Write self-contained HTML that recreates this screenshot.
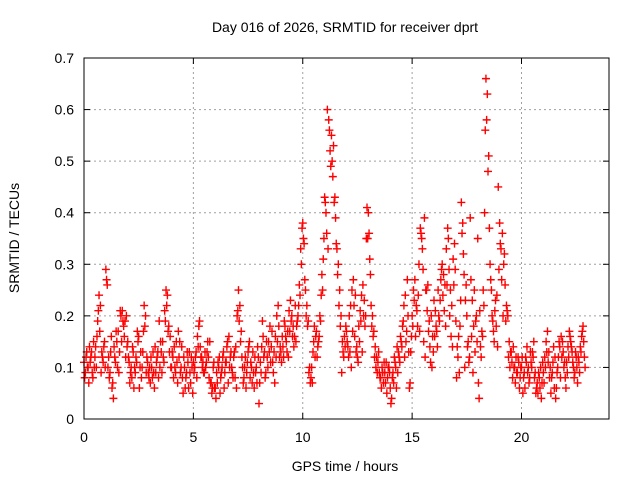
<!DOCTYPE html>
<html><head><meta charset="utf-8"><style>
body{margin:0;background:#fff;}
svg{display:block;font-family:"Liberation Sans",sans-serif;}
</style></head><body>
<svg id="chart" width="640" height="480">
<text x="345" y="32" text-anchor="middle" font-size="14">Day 016 of 2026, SRMTID for receiver dprt</text>
<text x="345" y="471" text-anchor="middle" font-size="14">GPS time / hours</text>
<text transform="translate(19,238) rotate(-90)" text-anchor="middle" font-size="14">SRMTID / TECUs</text>
<g id="grid"></g><g id="ticks"></g><g id="marks"></g>
<rect x="84" y="58" width="525" height="361" fill="none" stroke="#000" stroke-width="1"/>
</svg>
<script>
const xTicks=[0,5,10,15,20];
const yTicks=[0,0.1,0.2,0.3,0.4,0.5,0.6,0.7];
const yTickLabels=["0","0.1","0.2","0.3","0.4","0.5","0.6","0.7"];
const hourStep=0.0625;
const seriesA=[
.11,.09,.13,.10,.14,.12,.09,.15,.12,.10,.19,.24,.22,.13,.11,.15,
.29,.26,.12,.09,.16,.07,.14,.11,.15,.17,.13,.20,.21,.18,.19,.20,
.15,.11,.09,.08,.13,.10,.12,.17,.16,.10,.08,.13,.22,.20,.12,.09,
.10,.12,.08,.09,.14,.11,.13,.19,.15,.09,.12,.21,.25,.24,.18,.16,
.10,.12,.14,.09,.11,.17,.15,.10,.08,.12,.06,.09,.11,.13,.07,.10,
.11,.10,.13,.16,.18,.14,.12,.11,.09,.10,.13,.12,.15,.07,.06,.11,
.06,.09,.11,.12,.08,.10,.13,.09,.11,.15,.16,.12,.10,.08,.13,.14,
.20,.25,.22,.17,.10,.08,.12,.09,.13,.15,.11,.07,.09,.12,.10,.14,
.03,.11,.14,.16,.13,.09,.12,.15,.18,.14,.11,.13,.16,.20,.22,.12,
.13,.16,.12,.18,.15,.17,.21,.23,.20,.18,.16,.15,.19,.22,.24,.30,
.38,.34,.25,.22,.19,.10,.08,.07,.15,.12,.17,.14,.16,.19,.28,.31,
.43,.40,.60,.58,.52,.55,.47,.42,.39,.33,.30,.25,.20,.15,.12,.14,
.17,.14,.20,.22,.25,.27,.16,.13,.12,.18,.21,.24,.26,.23,.20,.41,
.40,.31,.22,.20,.17,.14,.12,.11,.09,.08,.10,.07,.09,.11,.08,.10,
.06,.04,.09,.12,.10,.14,.13,.11,.15,.18,.22,.24,.17,.20,.06,.13,
.20,.25,.27,.22,.18,.30,.37,.35,.29,.39,.25,.21,.17,.14,.20,.16,
.23,.21,.17,.25,.19,.27,.30,.28,.26,.33,.37,.29,.25,.22,.31,.34,
.19,.14,.16,.18,.42,.38,.28,.23,.20,.15,.12,.27,.23,.18,.13,.20,
.35,.04,.14,.17,.25,.40,.66,.63,.51,.30,.25,.19,.15,.23,.24,.45,
.38,.33,.36,.30,.26,.22,.20,.15,.13,.11,.14,.10,.12,.09,.11,.08,
.10,.05,.09,.12,.14,.10,.08,.11,.13,.15,.09,.06,.05,.08,.10,.07,
.09,.12,.15,.17,.13,.10,.08,.11,.06,.04,.09,.12,.14,.16,.15,.10,
.08,.11,.14,.17,.15,.13,.10,.09,.12,.07,.11,.14,.16,.18,.12];
const seriesB=[
.08,.12,.10,.07,.11,.13,.08,.10,.14,.16,.21,.17,.09,.12,.14,.10,
.27,.10,.08,.13,.06,.04,.12,.17,.10,.09,.21,.15,.19,.16,.12,.14,
.12,.07,.10,.14,.06,.09,.11,.15,.06,.13,.10,.17,.18,.09,.11,.08,
.07,.10,.13,.06,.09,.12,.08,.10,.13,.15,.11,.19,.22,.17,.13,.10,
.13,.08,.10,.15,.07,.12,.09,.14,.05,.10,.08,.13,.06,.09,.12,.05,
.09,.12,.08,.14,.19,.12,.10,.09,.13,.11,.15,.08,.07,.05,.10,.06,
.04,.07,.10,.05,.09,.12,.06,.11,.14,.07,.10,.13,.09,.12,.08,.06,
.21,.19,.15,.12,.07,.10,.06,.11,.14,.08,.10,.13,.06,.09,.07,.12,
.07,.09,.19,.12,.08,.15,.10,.13,.11,.17,.09,.07,.12,.15,.18,.14,
.11,.14,.19,.16,.13,.12,.17,.19,.16,.14,.22,.18,.20,.26,.33,.37,
.35,.27,.20,.18,.09,.07,.10,.13,.18,.16,.12,.15,.20,.24,.25,.35,
.42,.36,.33,.56,.49,.50,.53,.43,.34,.28,.22,.18,.09,.13,.16,.18,
.15,.12,.13,.10,.17,.22,.24,.14,.11,.15,.19,.13,.20,.18,.35,.35,
.36,.28,.18,.16,.12,.10,.09,.13,.08,.06,.09,.11,.07,.05,.10,.09,
.03,.08,.07,.11,.06,.09,.12,.16,.14,.19,.12,.15,.27,.13,.07,.16,
.18,.23,.16,.21,.24,.17,.36,.33,.15,.12,.25,.26,.19,.11,.10,.13,
.16,.18,.14,.20,.23,.29,.24,.21,.18,.26,.35,.20,.16,.14,.26,.29,
.08,.12,.09,.23,.36,.32,.10,.26,.14,.11,.39,.16,.09,.25,.19,.15,
.07,.21,.12,.16,.22,.56,.58,.48,.37,.27,.20,.17,.21,.18,.14,.29,
.34,.27,.20,.32,.19,.21,.12,.10,.13,.08,.10,.07,.09,.12,.06,.10,
.12,.08,.06,.11,.09,.07,.13,.10,.12,.08,.05,.07,.09,.06,.04,.11,
.07,.10,.13,.11,.08,.05,.09,.14,.12,.06,.10,.15,.08,.12,.13,.11,
.06,.09,.12,.16,.14,.11,.08,.13,.10,.12,.09,.13,.17,.15,.10];
const X0=84,X1=609,Y0=419,Y1=58,XMAX=24,YMAX=0.7;
const xs=h=>X0+(X1-X0)*h/XMAX;
const ys=v=>Y0-(Y0-Y1)*v/YMAX;
const NS="http://www.w3.org/2000/svg";
function mk(tag,attrs,parent){const e=document.createElementNS(NS,tag);for(const k in attrs)e.setAttribute(k,attrs[k]);parent.appendChild(e);return e;}
const grid=document.getElementById('grid'),ticks=document.getElementById('ticks'),marks=document.getElementById('marks');
xTicks.forEach(t=>{const x=xs(t);
 if(t>0){const g=mk('line',{x1:x,x2:x,y1:Y0,y2:Y1,stroke:'#a0a0a0','stroke-dasharray':'2,3','stroke-width':1},grid);
 
 }
 mk('line',{x1:x,x2:x,y1:Y0,y2:Y0-6,stroke:'#000'},ticks);
 mk('line',{x1:x,x2:x,y1:Y1,y2:Y1+6,stroke:'#000'},ticks);
 const l=mk('text',{x:x,y:Y0+23,'text-anchor':'middle','font-size':14},ticks);l.textContent=t;
 
 
});
yTicks.forEach((t,i)=>{const y=ys(t);
 if(t>0&&t<YMAX){const g=mk('line',{x1:X0,x2:X1,y1:y,y2:y,stroke:'#a0a0a0','stroke-dasharray':'2,3','stroke-width':1},grid);
 
 }
 mk('line',{x1:X0,x2:X0+6,y1:y,y2:y,stroke:'#000'},ticks);
 mk('line',{x1:X1,x2:X1-6,y1:y,y2:y,stroke:'#000'},ticks);
 const l=mk('text',{x:X0-10,y:y+5,'text-anchor':'end','font-size':14},ticks);l.textContent=yTickLabels[i];
 
 
});
function cross(h,v){const x=xs(h),y=ys(v);
 const p=mk('path',{d:`M${x-4},${y}H${x+4}M${x},${y-4}V${y+4}`,stroke:'#ff0000','stroke-width':1.4,fill:'none'},marks);
 
 }
seriesA.forEach((v,i)=>cross(i*hourStep,v));
seriesB.forEach((v,i)=>cross(i*hourStep+hourStep/2,v));
</script>
</body></html>
